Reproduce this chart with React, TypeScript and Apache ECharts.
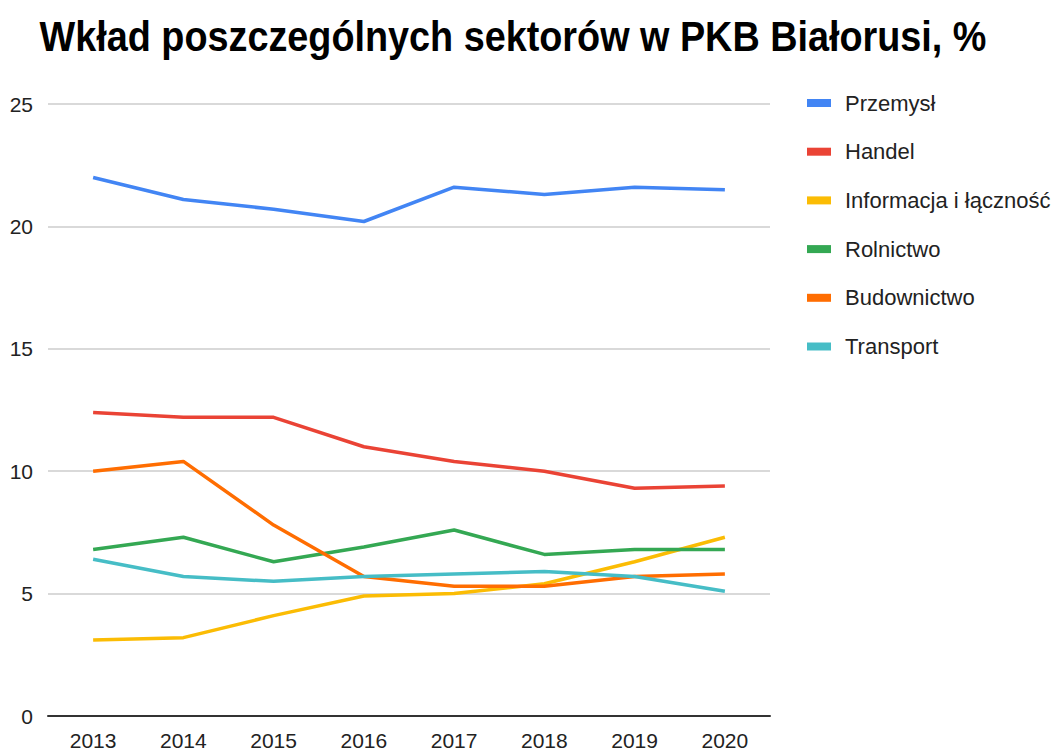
import React, { useEffect, useRef } from "react";
import * as echarts from "echarts";

const years = ["2013", "2014", "2015", "2016", "2017", "2018", "2019", "2020"];
const przemysl = [22.0, 21.1, 20.7, 20.2, 21.6, 21.3, 21.6, 21.5];
const handel = [12.4, 12.2, 12.2, 11.0, 10.4, 10.0, 9.3, 9.4];
const informacja = [3.1, 3.2, 4.1, 4.9, 5.0, 5.4, 6.3, 7.3];
const rolnictwo = [6.8, 7.3, 6.3, 6.9, 7.6, 6.6, 6.8, 6.8];
const budownictwo = [10.0, 10.4, 7.8, 5.7, 5.3, 5.3, 5.7, 5.8];
const transport = [6.4, 5.7, 5.5, 5.7, 5.8, 5.9, 5.7, 5.1];

const seriesDefs = [
  { name: "Przemysł", data: przemysl, color: "#4285F4" },
  { name: "Handel", data: handel, color: "#EA4335" },
  { name: "Informacja i łączność", data: informacja, color: "#FBBC04" },
  { name: "Rolnictwo", data: rolnictwo, color: "#34A853" },
  { name: "Budownictwo", data: budownictwo, color: "#FF6D01" },
  { name: "Transport", data: transport, color: "#46BDC6" },
];

const FONT = "Liberation Sans, Arial, sans-serif";

export default function App() {
  const ref = useRef<HTMLDivElement>(null);
  useEffect(() => {
    document.body.style.margin = "0";
    if (!ref.current) return;
    const chart = echarts.init(ref.current, null, { renderer: "svg" });
    chart.setOption({
      animation: false,
      backgroundColor: "#ffffff",
      graphic: [
        {
          type: "text",
          x: 513,
          y: 36,
          scaleX: 0.9,
          style: {
            text: "Wkład poszczególnych sektorów w PKB Białorusi, %",
            fontFamily: FONT,
            fontWeight: "bold",
            fontSize: 42,
            fill: "#000000",
            textAlign: "center",
            textVerticalAlign: "middle",
          },
        },
      ],
      legend: {
        orient: "vertical",
        left: 807,
        top: 92,
        padding: 0,
        itemWidth: 24,
        itemHeight: 8,
        itemGap: 26.7,
        icon: "rect",
        textStyle: {
          fontFamily: FONT,
          fontSize: 22,
          lineHeight: 22,
          color: "#222222",
          padding: [0, 0, 0, 9],
        },
        data: seriesDefs.map((s) => s.name),
      },
      grid: { left: 48, right: 286, top: 104, bottom: 35 },
      xAxis: {
        type: "category",
        data: years,
        boundaryGap: true,
        axisLine: { lineStyle: { color: "#333333", width: 2 } },
        axisTick: { show: false },
        axisLabel: {
          fontFamily: FONT,
          fontSize: 21,
          color: "#222222",
          margin: 14,
        },
      },
      yAxis: {
        type: "value",
        min: 0,
        max: 25,
        interval: 5,
        axisLine: { show: false },
        axisTick: { show: false },
        splitLine: { lineStyle: { color: "#cccccc", width: 1.5 } },
        axisLabel: {
          fontFamily: FONT,
          fontSize: 21,
          color: "#222222",
          margin: 15,
        },
      },
      series: seriesDefs.map((s) => ({
        name: s.name,
        type: "line",
        data: s.data,
        symbol: "none",
        color: s.color,
        lineStyle: { width: 3.5, color: s.color },
      })),
    });
    return () => chart.dispose();
  }, []);
  return <div ref={ref} style={{ width: 1056, height: 751 }} />;
}
